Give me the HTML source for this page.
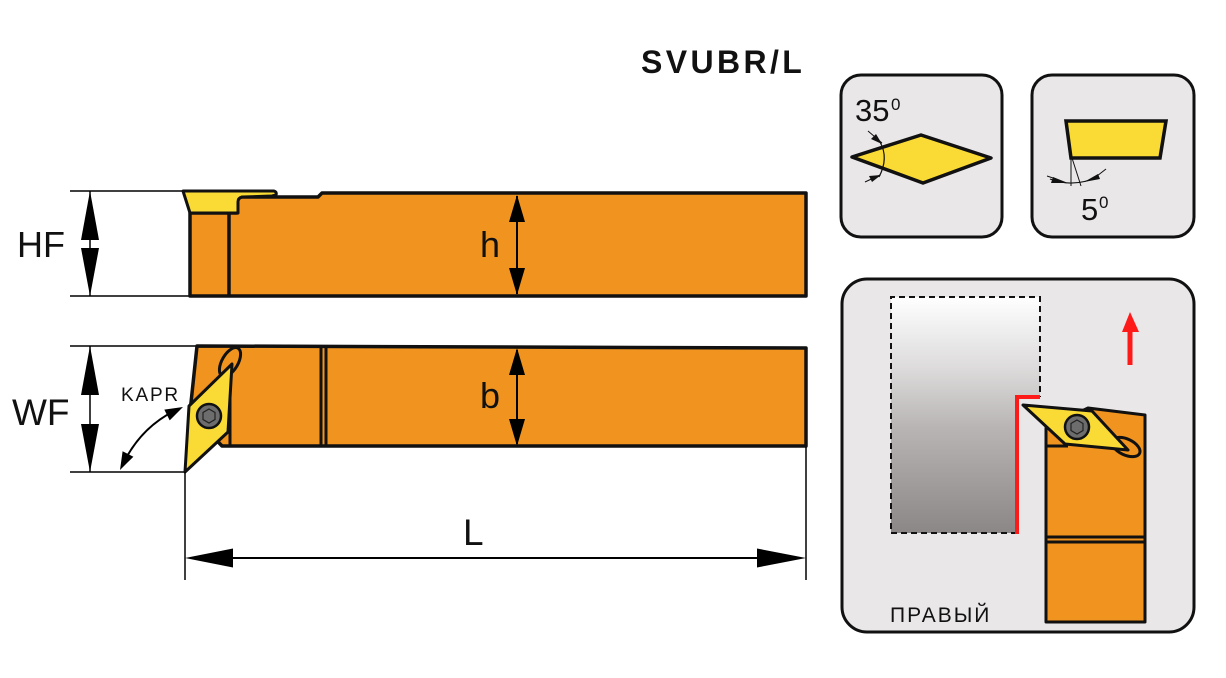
<!DOCTYPE html>
<html>
<head>
<meta charset="utf-8">
<style>
html,body{margin:0;padding:0;background:#fff;}
svg{display:block;}
text{font-family:"Liberation Sans",sans-serif;}
</style>
</head>
<body>
<svg width="1226" height="678" viewBox="0 0 1226 678" xmlns="http://www.w3.org/2000/svg">
<defs>
<linearGradient id="wp" x1="0" y1="0" x2="0" y2="1">
<stop offset="0" stop-color="#ffffff"/>
<stop offset="0.3" stop-color="#dddbdb"/>
<stop offset="0.55" stop-color="#b9b5b5"/>
<stop offset="1" stop-color="#8b8787"/>
</linearGradient>
</defs>

<!-- Title -->
<text x="641" y="73" font-size="32" font-weight="bold" letter-spacing="3.4" fill="#111">SVUBR/L</text>

<!-- ===== Upper tool (side view) ===== -->
<line x1="70" y1="191" x2="185" y2="191" stroke="#000" stroke-width="1.5"/>
<line x1="70" y1="296" x2="190" y2="296" stroke="#000" stroke-width="1.5"/>
<line x1="90" y1="191" x2="90" y2="296" stroke="#000" stroke-width="1.5"/>
<polygon points="90,191 81,240 99,240" fill="#000"/>
<polygon points="90,296 81,248 99,248" fill="#000"/>
<text x="17" y="257" font-size="36" fill="#111">HF</text>

<path d="M190 213 L237 213 L237 200 Q237 197 240 197 L318 197 L322 193 L806 193 L806 296 L190 296 Z" fill="#f0931f" stroke="#111" stroke-width="3.5" stroke-linejoin="round"/>
<line x1="229" y1="213" x2="229" y2="296" stroke="#111" stroke-width="3.5"/>
<path d="M183 191 L274 191 Q277 192 276 195 L272 196 L242 197 Q238 198 238 202 L238 213 L190 213 Z" fill="#fadb35" stroke="#111" stroke-width="3" stroke-linejoin="round"/>

<line x1="517" y1="196" x2="517" y2="294" stroke="#000" stroke-width="2"/>
<polygon points="517,195 509,222 525,222" fill="#000"/>
<polygon points="517,295 509,268 525,268" fill="#000"/>
<text x="480" y="257" font-size="36" fill="#111">h</text>

<!-- ===== Lower tool (top view) ===== -->
<line x1="70" y1="346" x2="197" y2="346" stroke="#000" stroke-width="1.5"/>
<line x1="70" y1="472" x2="185" y2="472" stroke="#000" stroke-width="1.5"/>
<line x1="90" y1="346" x2="90" y2="472" stroke="#000" stroke-width="1.5"/>
<polygon points="90,346 81,395 99,395" fill="#000"/>
<polygon points="90,472 81,424 99,424" fill="#000"/>
<text x="12" y="425" font-size="37" fill="#111">WF</text>

<path d="M197 346 L806 348 L806 446 L222 446 L190 412 Z" fill="#f0931f" stroke="#111" stroke-width="3.5" stroke-linejoin="round"/>
<line x1="321" y1="347" x2="321" y2="446" stroke="#111" stroke-width="3"/>
<line x1="326" y1="347" x2="326" y2="446" stroke="#111" stroke-width="3"/>
<line x1="230" y1="372" x2="230" y2="446" stroke="#111" stroke-width="3"/>
<ellipse cx="230" cy="362" rx="16" ry="8" transform="rotate(-60 230 362)" fill="#f0931f" stroke="#111" stroke-width="3"/>
<polygon points="185,472 189,406 232,364 228,432" fill="#fadb35" stroke="#111" stroke-width="3" stroke-linejoin="round"/>
<circle cx="209" cy="416" r="12" fill="#6d6d6d" stroke="#111" stroke-width="2.5"/>
<polygon points="209,409 215,412.5 215,419.5 209,423 203,419.5 203,412.5" fill="#6d6d6d" stroke="#222" stroke-width="1.2"/>

<line x1="517" y1="350" x2="517" y2="444" stroke="#000" stroke-width="2"/>
<polygon points="517,348 509,375 525,375" fill="#000"/>
<polygon points="517,446 509,419 525,419" fill="#000"/>
<text x="480" y="408" font-size="36" fill="#111">b</text>

<text x="121" y="401" font-size="19" letter-spacing="1.8" fill="#111">KAPR</text>
<path d="M124 462 Q141 428 174 411" fill="none" stroke="#000" stroke-width="2"/>
<polygon points="183,407 169.7,420.4 164.3,409.6" fill="#000"/>
<polygon points="120,470 133.4,456.7 122.6,451.3" fill="#000"/>

<line x1="185" y1="472" x2="185" y2="580" stroke="#000" stroke-width="1.5"/>
<line x1="806" y1="447" x2="806" y2="580" stroke="#000" stroke-width="1.5"/>
<line x1="200" y1="558" x2="790" y2="558" stroke="#000" stroke-width="2"/>
<polygon points="185,558 233,548.5 233,567.5" fill="#000"/>
<polygon points="806,558 757,548.5 757,567.5" fill="#000"/>
<text x="463" y="545" font-size="37" fill="#111">L</text>

<!-- ===== Panel 1 ===== -->
<rect x="841" y="75" width="161" height="162" rx="20" fill="#e9e7e8" stroke="#111" stroke-width="3"/>
<polygon points="852,157 921,135 991,158 923,183" fill="#fadb35" stroke="#111" stroke-width="3.5" stroke-linejoin="round"/>
<text x="855" y="121" font-size="31" fill="#111">35</text>
<text x="891" y="110" font-size="17" fill="#111">0</text>
<path d="M880 142 Q889 158 879 177" fill="none" stroke="#111" stroke-width="1.2"/>
<line x1="868" y1="131" x2="882" y2="143" stroke="#111" stroke-width="1"/>
<polygon points="882,144 871,139 876,134" fill="#111"/>
<line x1="865" y1="182" x2="880" y2="175" stroke="#111" stroke-width="1"/>
<polygon points="881,175 869,176 872,182" fill="#111"/>

<!-- ===== Panel 2 ===== -->
<rect x="1032" y="75" width="162" height="162" rx="20" fill="#e9e7e8" stroke="#111" stroke-width="3"/>
<polygon points="1066,121 1166,121 1160,158 1071,158" fill="#fadb35" stroke="#111" stroke-width="3.5" stroke-linejoin="miter"/>
<line x1="1071" y1="158" x2="1071" y2="186" stroke="#111" stroke-width="1"/>
<line x1="1072" y1="158" x2="1081" y2="186" stroke="#111" stroke-width="1"/>
<path d="M1050 179 Q1073 188 1098 177" fill="none" stroke="#111" stroke-width="1.2"/>
<polygon points="1068,183 1053,177 1051,183" fill="#111"/>
<polygon points="1084,182 1098,174 1100,179" fill="#111"/>
<line x1="1047" y1="176" x2="1056" y2="179" stroke="#111" stroke-width="1"/>
<line x1="1106" y1="169" x2="1097" y2="176" stroke="#111" stroke-width="1"/>
<text x="1081" y="220" font-size="31" fill="#111">5</text>
<text x="1099" y="208" font-size="17" fill="#111">0</text>

<!-- ===== Panel 3 ===== -->
<rect x="842" y="279" width="352" height="353" rx="25" fill="#e9e7e8" stroke="#111" stroke-width="3"/>
<polygon points="891,297 1040,297 1040,397 1017,397 1017,533 891,533" fill="url(#wp)"/>
<path d="M1017 533 L891 533 L891 297 L1040 297 L1040 397" fill="none" stroke="#111" stroke-width="2" stroke-dasharray="6,4"/>
<path d="M1040 397 L1017 397 L1017 534" fill="none" stroke="#ff1a1a" stroke-width="4"/>
<line x1="1130" y1="365" x2="1130" y2="330" stroke="#ff1a1a" stroke-width="5"/>
<polygon points="1130,312 1122,332 1139,332" fill="#ff1a1a"/>
<path d="M1046 428 L1088 408 L1145 415 L1145 622 L1046 622 Z" fill="#f0931f" stroke="#111" stroke-width="3" stroke-linejoin="round"/>
<line x1="1046" y1="537" x2="1145" y2="537" stroke="#111" stroke-width="3"/>
<line x1="1046" y1="542" x2="1145" y2="542" stroke="#111" stroke-width="3"/>
<line x1="1046" y1="446" x2="1068" y2="446" stroke="#111" stroke-width="3"/>
<ellipse cx="1126" cy="447" rx="15" ry="8" transform="rotate(25 1126 447)" fill="#f0931f" stroke="#111" stroke-width="3"/>
<polygon points="1023,405 1092,411 1128,450 1065,444" fill="#fadb35" stroke="#111" stroke-width="3" stroke-linejoin="round"/>
<circle cx="1077" cy="427" r="12" fill="#6d6d6d" stroke="#111" stroke-width="2.5"/>
<polygon points="1077,420 1083,423.5 1083,430.5 1077,434 1071,430.5 1071,423.5" fill="#6d6d6d" stroke="#222" stroke-width="1.2"/>
<text x="890" y="622" font-size="21" letter-spacing="2" fill="#111" font-family="Liberation Sans, DejaVu Sans, sans-serif">ПРАВЫЙ</text>
</svg>
</body>
</html>
